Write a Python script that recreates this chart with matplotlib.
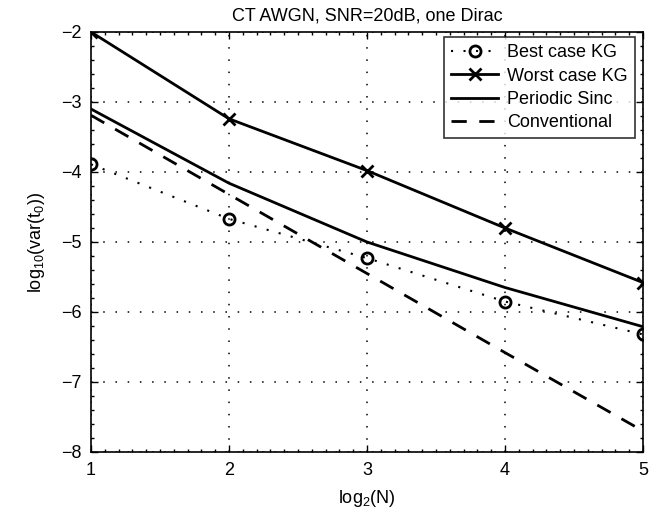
import numpy as np
import matplotlib
matplotlib.use("Agg")
import matplotlib.pyplot as plt
from matplotlib.ticker import MultipleLocator

plt.rcParams["font.family"] = ["Liberation Sans", "DejaVu Sans"]
plt.rcParams["mathtext.default"] = "regular"

# ── Data ──────────────────────────────────────────────────────────────────────
log2_n = [1, 2, 3, 4, 5]
best_kg = [-3.89, -4.67, -5.23, -5.85, -6.32]
worst_kg = [-2.00, -3.24, -3.98, -4.80, -5.58]
periodic_sinc = [-3.10, -4.16, -5.00, -5.65, -6.21]
conventional = [-3.19, -4.32, -5.45, -6.58, -7.70]

# ── Plot ──────────────────────────────────────────────────────────────────────
fig = plt.figure(figsize=(6.68, 5.16), dpi=100)
ax = fig.add_axes([91 / 668, 64 / 516, 552 / 668, 420 / 516])

ax.plot(log2_n, best_kg, linestyle=(0, (1, 5)), color="black", linewidth=1.5,
        marker="o", markersize=8, markerfacecolor="none", markeredgewidth=2,
        label="Best case KG")
ax.plot(log2_n, worst_kg, "-", color="black", linewidth=2,
        marker="x", markersize=8, markeredgewidth=2,
        label="Worst case KG")
ax.plot(log2_n, periodic_sinc, "-", color="black", linewidth=2,
        label="Periodic Sinc")
ax.plot(log2_n, conventional, "--", color="black", linewidth=2,
        dashes=(5.5, 4.5), label="Conventional")

ax.set_xlim(1, 5)
ax.set_ylim(-8, -2)
ax.xaxis.set_major_locator(MultipleLocator(1))
ax.yaxis.set_major_locator(MultipleLocator(1))
ax.xaxis.set_minor_locator(MultipleLocator(0.1))
ax.yaxis.set_minor_locator(MultipleLocator(0.2))
ax.tick_params(which="both", direction="in", top=True, right=True,
               labelsize=13, width=1)
ax.tick_params(which="major", length=5, pad=7)
ax.tick_params(which="minor", length=2.5)
ax.grid(True, which="major", linestyle=(0, (1, 7)), color="black", linewidth=1.1)
for spine in ax.spines.values():
    spine.set_linewidth(1.2)

ax.set_xlabel("log$_2$(N)", fontsize=13, labelpad=7)
ax.set_ylabel("log$_{10}$(var(t$_0$))", fontsize=13, labelpad=10)
ax.set_title("CT AWGN, SNR=20dB, one Dirac", fontsize=13, pad=8)

leg = ax.legend(loc="upper right", bbox_to_anchor=(0.986, 0.988), fontsize=13,
                frameon=True, fancybox=False, edgecolor="black",
                handlelength=2.6, borderaxespad=0, labelspacing=0.35,
                borderpad=0.4, handletextpad=0.5)
leg.get_frame().set_linewidth(1.2)

fig.savefig("out.png", dpi=100)
